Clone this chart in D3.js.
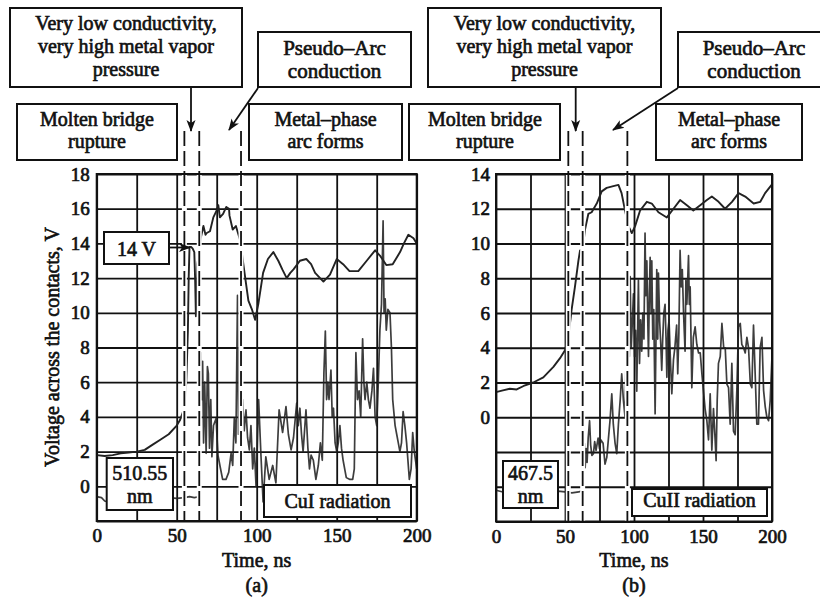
<!DOCTYPE html>
<html><head><meta charset="utf-8">
<script src="https://cdn.jsdelivr.net/npm/d3@7/dist/d3.min.js"></script>
<style>
html,body{margin:0;padding:0;background:#fff;}
svg{display:block;font-family:"Liberation Serif","DejaVu Serif",serif;}
</style></head><body>
<svg id="chart" width="820" height="604"></svg>
<script>
// ---------------- DATA ----------------
const xTicks = [0, 25, 50, 75, 100, 125, 150, 175, 200];
const xTickLabels = ["0", "", "50", "", "100", "", "150", "", "200"];
const yTicksA = [-2, 0, 2, 4, 6, 8, 10, 12, 14, 16, 18];
const yTickLabelsA = ["", "0", "2", "4", "6", "8", "10", "12", "14", "16", "18"];
const yTicksB = [-6, -4, -2, 0, 2, 4, 6, 8, 10, 12, 14];
const yTickLabelsB = ["", "", "", "0", "2", "4", "6", "8", "10", "12", "14"];
const phaseTimesA = [54.8, 64.1, 90.2];
const phaseTimesB = [52.4, 62.8, 95.2];

// panel (a) voltage across the contacts [time ns, volts]
const voltageA = [
 [0,1.8],[5,1.75],[10,1.8],[15,1.9],[20,1.95],[25,2.0],[30,2.1],[35,2.4],[40,2.7],[45,3.0],
 [50,3.5],[52,3.8],[54,4.3],[55,4.8],[56,6],[57,9],[57.5,12],[58,13.8],[59,13.8],[60,13.7],
 [61,13.5],[61.5,12],[62,9.8],[62.5,11],[63,12.8],[64,13.6],[65,14.3],[66.7,15.0],[68,14.5],[68.75,14.6],
 [70.8,14.7],[72.9,15.5],[75,15.9],[76,16.2],[77,15.5],[79,15.7],[81,16.1],[82.7,16.0],[83,15.6],[85,14.8],
 [87,15.0],[89.6,14.2],[92.7,12.1],[94.8,10.7],[97,10.2],[99,9.6],[101,10.5],[104,12.3],[107,13.1],[110.4,13.5],
 [113.5,13.0],[116,12.5],[118.75,12.0],[121,12.3],[123,12.5],[127,13.0],[131,13.1],[134,12.8],[136.5,12.3],[141.7,11.8],
 [145.8,12.2],[150,13.1],[154,12.8],[158,12.4],[163.5,12.4],[168.75,13.0],[174,13.6],[177,13.3],[181,12.75],[185,12.8],
 [189.6,13.5],[192,14.0],[194.8,14.5],[198,14.3],[200,14.0]
];
// panel (a) CuI 510.55 nm radiation signal [time ns, volts]
const radiationA = [
 [0,-0.6],[3,-0.65],[5,-0.85],[7,-0.9],[9,-0.75],[12,-0.7],[16,-0.7],[20,-0.65],[25,-0.7],[30,-0.65],
 [35,-0.7],[40,-0.7],[45,-0.65],[50,-0.7],[55,-0.65],[58,-0.6],[61,-0.65],[63.8,-0.6],
 [64.3,3],[65,7.7],[65.6,5],[66.2,7.2],[66.8,2.5],[67.5,6],[68.4,1.9],[69.2,6.9],[69.8,6.5],[70.5,2.2],
 [71.3,5],[72,1.7],[73,3.5],[74.6,3.9],[75.8,1.8],[77,1.2],[78.7,0.4],[80.8,0.4],[82.5,0.8],[84,1.9],
 [85,1.2],[86,3.9],[87,2.5],[88,11],[88.6,3],[89.2,8],[90,4.5],[91.2,5.0],[92.2,3.2],[93.3,4.4],
 [94.3,2.8],[95.4,2.1],[96.4,3.5],[97.5,1.0],[98.5,2.2],[99.6,0],[101.2,5.0],[102.7,1.7],[104,-0.9],[105.7,1.7],
 [107.8,0.4],[110,1.2],[112,0.2],[114,4.4],[116.2,3.1],[118.3,4.6],[119.8,3.0],[121.5,2.1],[123,2.8],[125,4.8],
 [126,3.5],[127,4.5],[128,3],[129,2],[130.8,4.4],[132,2.2],[133,1.0],[134,1.8],[135.4,1.5],[137,0.4],
 [138.5,1.2],[139.8,2.5],[141,1.5],[142,6.5],[142.9,8.95],[143.7,5],[144.5,6],[145.2,5],[146.4,6.7],[147.2,4],
 [148,4.5],[149,2.5],[150,2],[151,2.5],[152,3.5],[153,2.2],[154,1.5],[156,0.5],[158,0.4],[160,0.4],
 [161,1],[162,7.7],[163,5],[164,5.5],[165,4],[166.2,8.5],[167,6],[167.7,5],[168.8,6],[169.8,5],
 [170.8,4.5],[172,5.5],[173,6.8],[174,4],[175,3.5],[176,6],[177,9],[178,10.5],[179,15.3],[179.6,10],
 [180.3,10.8],[181,9],[182,10.2],[183.3,10],[184.2,8],[185,5],[186.5,3.5],[187.5,3],[188.5,2.5],[189.5,2],
 [190.5,2.5],[191.5,4.3],[192.6,3.5],[193.7,2.5],[195.4,0.4],[196.5,1],[197.5,3.1],[198.5,2],[200,1]
];
// panel (b) voltage across the contacts
const voltageB = [
 [0,1.45],[5,1.55],[10,1.64],[15,1.6],[20,1.8],[27,2.0],[34.3,2.3],[41.6,2.9],[46.4,3.4],[50,3.85],
 [52.4,4.6],[54.8,6.2],[57.2,7.5],[59.7,9.0],[60.9,9.6],[62.8,9.7],[64.5,10.8],[66.9,11.7],[69.3,11.8],[73,12.3],
 [76.6,13.0],[80.2,13.2],[85,13.3],[88.7,13.37],[91,12.9],[93.5,11.9],[96,11.0],[98.4,10.6],[100.8,11.0],[104.4,11.9],
 [109.3,12.4],[112.9,12.3],[117.7,11.8],[123.8,11.5],[128.6,12.0],[133.4,12.5],[138.3,12.2],[143,11.9],[148,12.2],[152.8,12.5],
 [156.4,12.7],[161.3,12.4],[166,12.0],[171,12.4],[175.8,12.9],[180.6,12.7],[186.7,12.3],[191.5,12.4],[195,12.9],[200,13.4]
];
// panel (b) CuII 467.5 nm radiation signal
const radiationB = [
 [0,-4.2],[5,-4.3],[10,-4.25],[15,-4.35],[20,-4.3],[25,-4.2],[30,-4.3],[35,-4.35],[40,-4.3],[45,-4.25],
 [50,-4.3],[55,-4.35],[60,-4.3],[63,-4.2],
 [63.5,-3.8],[64,-1.5],[64.6,-2.9],[65.3,-1.8],[66,-2.6],[66.8,-1.2],[67.8,-0.2],[68.6,-1.6],[69.5,-2.2],[70.6,-2.1],
 [71.5,-1.4],[72.5,-1.9],[74,-1.2],[75,-1.8],[76,-1.3],[77.6,-1.5],[79,-2.7],[80.3,-2.3],[81.5,-1.2],[82.6,-0.2],
 [83.9,1.35],[85,-0.4],[86.3,-1.5],[87.5,-2.1],[88.7,-0.4],[90,1.0],[91.1,2.5],[92.3,1.0],[93.5,0],[94.7,5.6],
 [95.5,2.5],[96,6.2],[96.6,3.5],[97.2,8.1],[98,4.0],[98.8,5.5],[99.6,7.1],[100.4,3.5],[101.2,5.0],[102,1.5],
 [102.6,4.8],[103.2,7.9],[104,3.1],[104.8,5.6],[105.6,3.8],[106.4,6.0],[107.2,4.5],[108,10.6],[108.6,7.0],[109.3,9.0],
 [110,5.5],[110.5,3.5],[111.1,7.1],[111.7,9.2],[112.4,6.0],[112.9,9.0],[113.6,4.5],[114.3,6.2],[115.3,0.2],[116.5,8.5],
 [117.2,4.5],[117.7,8.3],[118.6,5.5],[119.4,4.2],[120.1,2.7],[120.8,4.5],[121.6,6.0],[122.5,6.5],[123.2,4.6],[123.8,2.3],
 [124.6,5.0],[125.4,5.6],[126.3,3.5],[127.4,1.35],[128.6,3.3],[129.6,4.0],[130.9,5.3],[131.7,2.5],[132.5,4.8],[133.4,9.6],
 [134.2,7.5],[135,8.5],[135.9,6.0],[137,3.8],[137.6,7.9],[138.3,6.5],[139.5,9.3],[140.1,6.5],[140.7,7.5],[141.9,1.7],
 [143,4.6],[144.3,5.2],[145.5,4.2],[146.8,3.7],[148,3.7],[149.2,2.5],[150.3,1.55],[151.5,0.5],[152.8,-0.2],[154,-1.3],
 [155.2,1.35],[156.4,-1.9],[157.6,0.5],[158.8,-1.3],[159.5,-2.5],[160.3,1.0],[161.2,3.1],[162.5,3.5],[163.7,5.4],[165,4.0],
 [166.1,4.0],[167.3,1.9],[168.5,1.7],[169.7,-0.4],[170.9,3.1],[172.1,-0.8],[173.3,-1.0],[174.5,1.5],[175.7,5.2],[177,5.4],
 [178.1,4.2],[179.4,4.0],[180.6,3.7],[181.8,4.6],[183,4.0],[184.3,1.9],[185.4,1.7],[186.6,5.3],[187.8,2.5],[189,-0.4],
 [190.2,-0.4],[191.4,4.0],[192.7,4.6],[193.9,1.55],[195.1,0.6],[196.3,0],[197.5,-0.2],[198.7,0.97],[200,3.5]
];

// ---------------- DRAWING ----------------
const svg = d3.select("#chart");
const INK = "#111";
const TXT_STROKE = 0.65;
const defs = svg.append("defs");
defs.append("marker").attr("id","arr").attr("viewBox","0 0 12 10")
  .attr("refX",11).attr("refY",5).attr("markerWidth",12).attr("markerHeight",10)
  .attr("markerUnits","userSpaceOnUse").attr("orient","auto")
  .append("path").attr("d","M0,0.5 L12,5 L0,9.5 L3,5 Z").attr("fill",INK);

function label(x, y, t, size) {
  return svg.append("text").attr("x",x).attr("y",y).attr("text-anchor","middle")
    .attr("font-size",size||20).attr("fill",INK).attr("stroke",INK).attr("stroke-width",TXT_STROKE)
    .text(t);
}
function box(x, y, w, h, lines, cx, baselines, size) {
  svg.append("rect").attr("x",x).attr("y",y).attr("width",w).attr("height",h)
    .attr("fill","#fff").attr("stroke",INK).attr("stroke-width",2);
  lines.forEach((t,i) => label(cx, baselines[i], t, size));
}
function arrow(x1,y1,x2,y2){
  svg.append("line").attr("x1",x1).attr("y1",y1).attr("x2",x2).attr("y2",y2)
    .attr("stroke",INK).attr("stroke-width",1.8).attr("marker-end","url(#arr)");
}

function panel(cfg) {
  const x = d3.scaleLinear().domain([0,200]).range([cfg.left, cfg.right]);
  const y = d3.scaleLinear().domain(cfg.yDomain).range([cfg.bottom, cfg.top]);
  const g = svg.append("g");
  const h = cfg.bottom - cfg.top, w = cfg.right - cfg.left;

  const gx = g.append("g").attr("transform",`translate(0,${cfg.bottom})`)
    .call(d3.axisBottom(x).tickValues(xTicks).tickSize(-h).tickSizeOuter(0).tickPadding(8)
      .tickFormat((d,i)=>xTickLabels[i]));
  const gy = g.append("g").attr("transform",`translate(${cfg.left},0)`)
    .call(d3.axisLeft(y).tickValues(cfg.yTicks).tickSize(-w).tickSizeOuter(0).tickPadding(cfg.yPad)
      .tickFormat((d,i)=>cfg.yLabels[i]));
  [gx,gy].forEach(a=>{
    a.select(".domain").remove();
    a.selectAll(".tick line").attr("stroke",INK).attr("stroke-width",1.8);
    a.selectAll(".tick text").attr("font-size",19).attr("fill",INK).attr("stroke",INK)
      .attr("stroke-width",0.7).attr("font-family","'Liberation Serif',serif");
  });

  const line = d3.line().x(d=>x(d[0])).y(d=>y(d[1]));
  g.append("path").datum(cfg.radiation).attr("d",line).attr("fill","none")
    .attr("stroke","#222").attr("stroke-width",1.7).attr("stroke-linejoin","round").attr("opacity",0.88);
  g.append("path").datum(cfg.voltage).attr("d",line).attr("fill","none")
    .attr("stroke","#222").attr("stroke-width",1.9).attr("stroke-linejoin","round");

  g.append("rect").attr("x",cfg.left).attr("y",cfg.top).attr("width",w).attr("height",h)
    .attr("fill","none").attr("stroke",INK).attr("stroke-width",2);

  cfg.phases.forEach(t=>{
    g.append("line").attr("x1",x(t)).attr("x2",x(t)).attr("y1",cfg.top+1).attr("y2",cfg.bottom-1)
      .attr("stroke","#fff").attr("stroke-width",5);
    g.append("line").attr("x1",x(t)).attr("x2",x(t)).attr("y1",131).attr("y2",cfg.bottom)
      .attr("stroke",INK).attr("stroke-width",1.8).attr("stroke-dasharray","15,5");
  });

  label((cfg.left+cfg.right)/2, 567, "Time, ns", 20);
  label((cfg.left+cfg.right)/2, 592, cfg.tag, 20);
  return {x,y};
}

const A = panel({left:96.7,right:416.7,top:174,bottom:521,yDomain:[-2,18],yTicks:yTicksA,yLabels:yTickLabelsA,
  yPad:7,voltage:voltageA,radiation:radiationA,phases:phaseTimesA,tag:"(a)"});
const B = panel({left:496,right:772,top:174,bottom:521.5,yDomain:[-6,14],yTicks:yTicksB,yLabels:yTickLabelsB,
  yPad:6,voltage:voltageB,radiation:radiationB,phases:phaseTimesB,tag:"(b)"});

// y-axis title
svg.append("text").attr("transform","translate(59,347) rotate(-90)").attr("text-anchor","middle")
  .attr("font-size",20).attr("fill",INK).attr("stroke",INK).attr("stroke-width",TXT_STROKE)
  .text("Voltage across the contacts, V");

// annotations panel (a)
box(10,8,232,79,["Very low conductivity,","very high metal vapor","pressure"],126,[30,53,76]);
box(258,32,153,55,["Pseudo\u2013Arc","conduction"],334.5,[55,78],21);
box(17,104,160,56,["Molten bridge","rupture"],97,[126,148]);
box(249,104,153,56,["Metal\u2013phase","arc forms"],325.5,[126,148]);
arrow(191,87,191,131);
arrow(258,88,229,130);
box(104,232,65,32,["14 V"],136.5,[256]);
arrow(169,247.5,190,247.5);
box(106.7,458,66.3,52,["510.55","nm"],139.8,[480,503]);
box(264,485,147,32,["CuI radiation"],337.5,[508]);

// annotations panel (b)
box(428,8,233,79,["Very low conductivity,","very high metal vapor","pressure"],544.5,[30,53,76]);
box(678,32,160,55,["Pseudo\u2013Arc","conduction"],754,[55,78],21);
box(409,104,151,56,["Molten bridge","rupture"],485,[126,148]);
box(656,104,146,56,["Metal\u2013phase","arc forms"],729,[126,148]);
arrow(575.7,87,575.7,131);
arrow(678,88,613,130);
box(503,461,55,47,["467.5","nm"],530.5,[480,503]);
box(632,489,135,27,["CuII radiation"],699.5,[507]);
</script>
</body></html>
